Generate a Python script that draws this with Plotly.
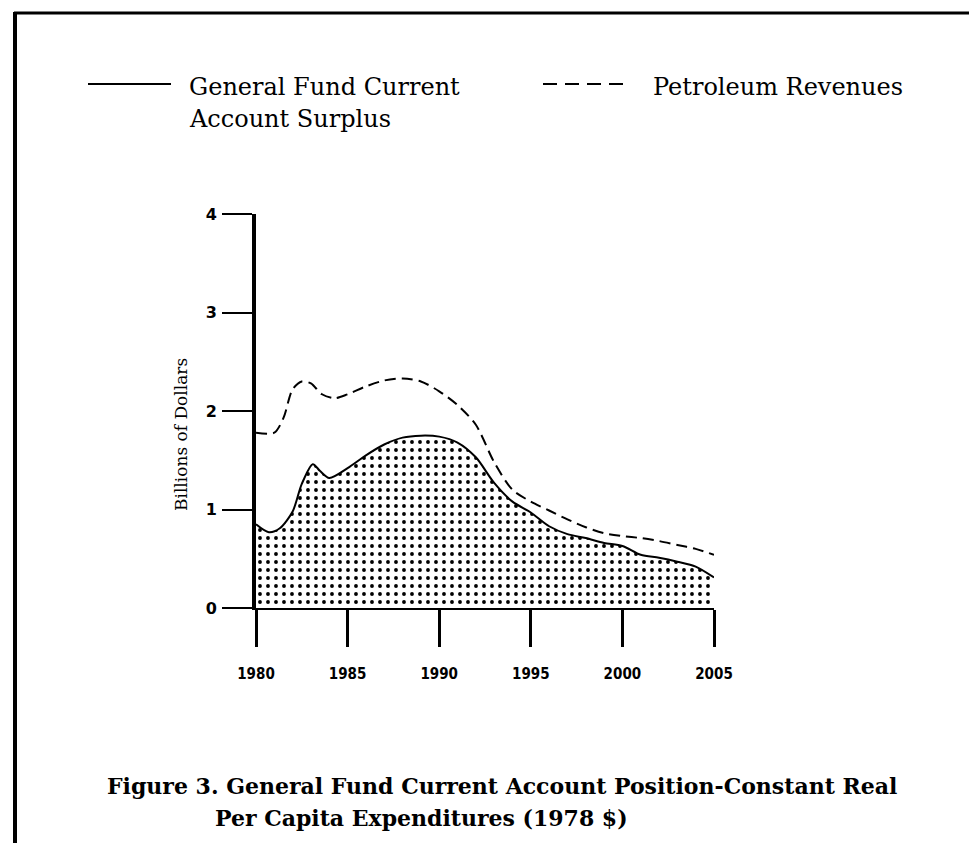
import plotly.graph_objects as go

# ---- data ----
surplus_years = [1980, 1980.7, 1981.3, 1982, 1982.5, 1983.1, 1983.5, 1984, 1985, 1986, 1987, 1988,
                 1989, 1990, 1991, 1992, 1993, 1994, 1995, 1996, 1997, 1998, 1999, 2000, 2001,
                 2002, 2003, 2004, 2005]
surplus_values = [0.85, 0.77, 0.81, 0.98, 1.26, 1.46, 1.39, 1.32, 1.42, 1.55, 1.66, 1.73,
                  1.75, 1.74, 1.68, 1.53, 1.27, 1.08, 0.97, 0.83, 0.75, 0.71, 0.66, 0.63, 0.54,
                  0.51, 0.47, 0.42, 0.31]

petro_years = [1980, 1981, 1981.5, 1982, 1982.5, 1983, 1983.6, 1984.3, 1985, 1986, 1987, 1988,
               1989, 1990, 1991, 1992, 1993, 1994, 1995, 1996, 1997, 1998, 1999, 2000, 2001,
               2002, 2003, 2004, 2005]
petro_values = [1.78, 1.78, 1.93, 2.22, 2.30, 2.28, 2.17, 2.13, 2.17, 2.25, 2.31, 2.33,
                2.30, 2.20, 2.06, 1.86, 1.48, 1.20, 1.08, 0.99, 0.90, 0.82, 0.76, 0.73, 0.71,
                0.68, 0.64, 0.60, 0.54]

x_ticks = [1980, 1985, 1990, 1995, 2000, 2005]
x_tick_labels = ["1980", "1985", "1990", "1995", "2000", "2005"]
y_ticks = [0, 1, 2, 3, 4]
y_tick_labels = ["0", "1", "2", "3", "4"]

legend_surplus = ["General Fund Current", "Account Surplus"]
legend_petro = "Petroleum Revenues"
y_title = "Billions of Dollars"
caption = ["Figure 3. General Fund Current Account Position-Constant Real",
           "Per Capita Expenditures (1978 $)"]

# ---- layout geometry (pixels) ----
W, H = 977, 843
L, R, T, B = 248, 706, 206, 600


def px(x):
    return (x - L) / (R - L)


def py(y):
    return (B - y) / (B - T)


fig = go.Figure()

fig.add_trace(go.Scatter(
    x=surplus_years, y=surplus_values, mode="lines",
    line=dict(color="black", width=2, shape="spline", smoothing=0.8),
    fill="tozeroy",
    fillpattern=dict(shape=".", fgcolor="black", fgopacity=1, bgcolor="white",
                     size=8, solidity=0.18),
    name=" ".join(legend_surplus), showlegend=False, cliponaxis=False,
))

fig.add_trace(go.Scatter(
    x=petro_years, y=petro_values, mode="lines",
    line=dict(color="black", width=2, dash="11px,6px", shape="spline", smoothing=0.8),
    name=legend_petro, showlegend=False, cliponaxis=False,
))

serif = "DejaVu Serif"
tickfont = "DejaVu Sans Condensed, DejaVu Sans"

fig.update_xaxes(
    range=[1980, 2005], tickvals=x_ticks, ticktext=x_tick_labels,
    showgrid=False, zeroline=False, showline=True, linecolor="black", linewidth=2,
    ticks="outside", ticklen=37, tickwidth=3, tickcolor="black",
    ticklabelstandoff=14,
    tickfont=dict(family=tickfont, size=15, color="black", weight="bold"),
)
fig.update_yaxes(
    range=[0, 4], tickvals=y_ticks, ticktext=y_tick_labels,
    showgrid=False, zeroline=False, showline=True, linecolor="black", linewidth=4,
    ticks="outside", ticklen=30, tickwidth=2, tickcolor="black",
    ticklabelstandoff=2,
    tickfont=dict(family="DejaVu Sans", size=16, color="black", weight="bold"),
)

shapes = [
    # page border (left and top)
    dict(type="line", xref="paper", yref="paper", x0=px(7), x1=px(7), y0=py(4), y1=py(843),
         line=dict(color="black", width=4)),
    dict(type="line", xref="paper", yref="paper", x0=px(6), x1=px(977), y0=py(5), y1=py(5),
         line=dict(color="black", width=3)),
    # legend samples
    dict(type="line", xref="paper", yref="paper", x0=px(80), x1=px(163), y0=py(76), y1=py(76),
         line=dict(color="black", width=2)),
    dict(type="line", xref="paper", yref="paper", x0=px(535), x1=px(623), y0=py(76), y1=py(76),
         line=dict(color="black", width=2, dash="14px,8px")),
]

annotations = [
    dict(text=legend_surplus[0], x=px(179), y=py(79), xref="paper", yref="paper",
         xanchor="left", yanchor="middle", showarrow=False,
         font=dict(family=serif, size=24, color="black")),
    dict(text=legend_surplus[1], x=px(179), y=py(111), xref="paper", yref="paper",
         xanchor="left", yanchor="middle", showarrow=False,
         font=dict(family=serif, size=24, color="black")),
    dict(text=legend_petro, x=px(643), y=py(79), xref="paper", yref="paper",
         xanchor="left", yanchor="middle", showarrow=False,
         font=dict(family=serif, size=24, color="black")),
    dict(text=y_title, x=px(173), y=py(427), xref="paper", yref="paper",
         xanchor="center", yanchor="middle", textangle=-90, showarrow=False,
         font=dict(family=serif, size=17, color="black")),
    dict(text=caption[0], x=px(97), y=py(778), xref="paper", yref="paper",
         xanchor="left", yanchor="middle", showarrow=False,
         font=dict(family=serif, size=22, color="black", weight="bold")),
    dict(text=caption[1], x=px(205), y=py(810), xref="paper", yref="paper",
         xanchor="left", yanchor="middle", showarrow=False,
         font=dict(family=serif, size=22, color="black", weight="bold")),
]

fig.update_layout(
    width=W, height=H,
    margin=dict(l=L, r=W - R, t=T, b=H - B),
    paper_bgcolor="white", plot_bgcolor="white",
    showlegend=False,
    shapes=shapes, annotations=annotations,
)

fig.write_html("out.html")
